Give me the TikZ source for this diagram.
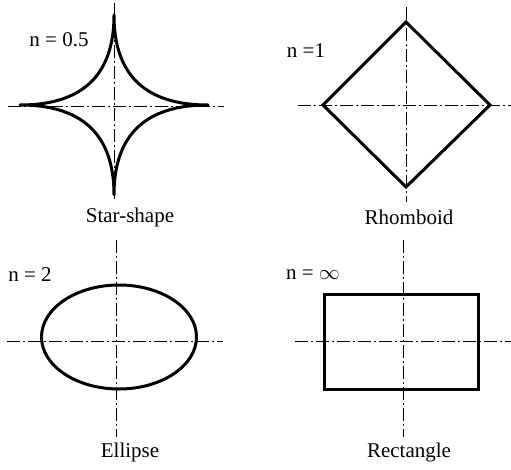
\documentclass[tikz,border=0pt]{standalone}
\usepackage{fontspec}
\setmainfont{Liberation Serif}
\usetikzlibrary{positioning}

\begin{document}
\begin{tikzpicture}[x=1pt, y=-1pt, font=\fontsize{21}{25}\selectfont]
\tikzstyle{axis} = [line width=0.9pt, dash pattern=on 13pt off 3pt on 2pt off 3pt]
\tikzstyle{outline} = [line width=3pt, line join=round]
\tikzstyle{caption} = [inner sep=0pt, anchor=center]

\useasboundingbox (0,0) rectangle (511,470);

% n = 0.5
\coordinate (star) at (114,106);
\coordinate (starW) at (8,106);
\coordinate (starE) at (224,106);
\coordinate (starN) at (114,3);
\coordinate (starS) at (114,199);
\draw [axis] (starW) -- (starE);
\draw [axis] (starN) -- (starS);
\draw [outline, shift={(114,105)}] plot[domain=0:360, samples=361]
  ({94*cos(\x)*cos(\x)*cos(\x)*abs(cos(\x))}, {90*sin(\x)*sin(\x)*sin(\x)*abs(sin(\x))}) -- cycle;
\node (n1) [caption] at (59,40) {n = 0.5};
\node (name1) [caption] at (130,217) {Star-shape};

% n = 1
\coordinate (rhomb) at (406,105);
\coordinate (rhombW) at (298,105);
\coordinate (rhombE) at (511,105);
\coordinate (rhombN) at (406,7);
\coordinate (rhombS) at (406,202);
\draw [axis] (rhombW) -- (rhombE);
\draw [axis] (rhombN) -- (rhombS);
\draw [outline, line join=miter] (406,22) -- (490,105) -- (406,187) -- (323,105) -- cycle;
\node (n2) [caption] at (306,51) {n =1};
\node (name2) [caption] at (409,217) {Rhomboid};

% n = 2
\coordinate (ell) at (116,341);
\coordinate (ellW) at (7,341);
\coordinate (ellE) at (223,341);
\coordinate (ellN) at (116,240);
\coordinate (ellS) at (116,437);
\draw [axis] (ellW) -- (ellE);
\draw [axis] (ellN) -- (ellS);
\draw [outline] (119,337) ellipse [x radius=77.5, y radius=52];
\node (n3) [caption] at (30,275) {n = 2};
\node (name3) [caption] at (130,452) {Ellipse};

% n = infinity
\coordinate (rect) at (403,341);
\coordinate (rectW) at (295,341);
\coordinate (rectE) at (511,341);
\coordinate (rectN) at (403,240);
\coordinate (rectS) at (403,437);
\draw [axis] (rectW) -- (rectE);
\draw [axis] (rectN) -- (rectS);
\draw [outline, line join=miter] (324,294) rectangle (478,389);
\node (n4) [caption] at (313,275) {n = $\infty$};
\node (name4) [caption] at (409,452) {Rectangle};

\end{tikzpicture}
\end{document}
